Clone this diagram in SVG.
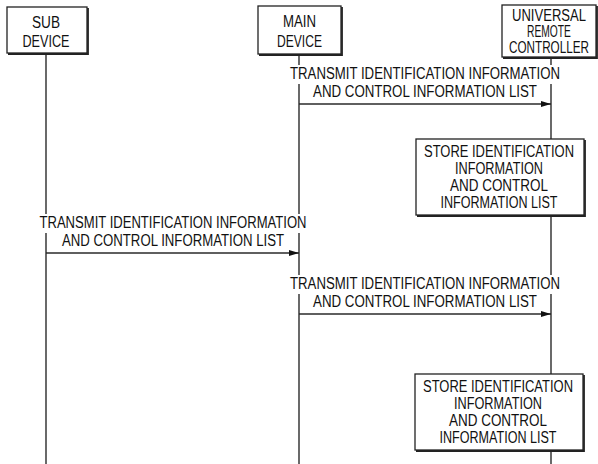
<svg xmlns="http://www.w3.org/2000/svg" width="598" height="464" viewBox="0 0 598 464">
<style>
text{font-family:"Liberation Sans",Arial,sans-serif;font-size:16px;fill:#111;text-anchor:middle}
.box{fill:#fff;stroke:#222;stroke-width:1.3}
.sh{fill:none;stroke:#222;stroke-width:1.8}
.life{stroke:#2a2a2a;stroke-width:1.4;fill:none}
.msg{stroke:#2a2a2a;stroke-width:1.3;fill:none;marker-end:url(#ah)}
.bg{fill:#fff;stroke:none}
</style>
<defs>
<marker id="ah" viewBox="0 0 10 6" refX="10" refY="3" markerWidth="10" markerHeight="6" markerUnits="userSpaceOnUse" orient="auto">
<path d="M0,0 L10,3 L0,6 Z" fill="#111"/>
</marker>
</defs>
<g id="lifelines">
<line class="life" x1="46" y1="53" x2="46" y2="464"/>
<line class="life" x1="299" y1="54" x2="299" y2="464"/>
<line class="life" x1="551" y1="57" x2="551" y2="464"/>
</g>
<g id="sub-device">
<rect class="box" x="7" y="7" width="80" height="46"/>
<path class="sh" d="M88,8 V54 H8"/>
<text x="46" y="28" textLength="28" lengthAdjust="spacingAndGlyphs">SUB</text>
<text x="46" y="47" textLength="47" lengthAdjust="spacingAndGlyphs">DEVICE</text>
</g>
<g id="main-device">
<rect class="box" x="258" y="6" width="83" height="48"/>
<path class="sh" d="M342,7 V55 H259"/>
<text x="299.5" y="27" textLength="33" lengthAdjust="spacingAndGlyphs">MAIN</text>
<text x="299.5" y="47" textLength="45" lengthAdjust="spacingAndGlyphs">DEVICE</text>
</g>
<g id="universal-remote-controller">
<rect class="box" x="502" y="5" width="94" height="52"/>
<path class="sh" d="M597,6 V58 H503"/>
<text x="549" y="21" textLength="74" lengthAdjust="spacingAndGlyphs">UNIVERSAL</text>
<text transform="translate(549,37) scale(0.64,1)" x="0" y="0">REMOTE</text>
<text x="549" y="53" textLength="80" lengthAdjust="spacingAndGlyphs">CONTROLLER</text>
</g>
<g id="connectors">
<line class="msg" x1="299" y1="104" x2="551" y2="104"/>
<line class="msg" x1="46" y1="253" x2="299" y2="253"/>
<line class="msg" x1="299" y1="314" x2="551" y2="314"/>
</g>
<g id="msg1-label">
<rect class="bg" x="289" y="65" width="273" height="19"/>
<text x="425" y="79" textLength="270" lengthAdjust="spacingAndGlyphs">TRANSMIT IDENTIFICATION INFORMATION</text>
<text x="425" y="97" textLength="224" lengthAdjust="spacingAndGlyphs">AND CONTROL INFORMATION LIST</text>
</g>
<g id="store1">
<rect class="box" x="416" y="139" width="168" height="76"/>
<path class="sh" d="M585,140 V216 H417"/>
<text x="499" y="157" textLength="150" lengthAdjust="spacingAndGlyphs">STORE IDENTIFICATION</text>
<text x="499" y="174" textLength="88" lengthAdjust="spacingAndGlyphs">INFORMATION</text>
<text x="499" y="191" textLength="98" lengthAdjust="spacingAndGlyphs">AND CONTROL</text>
<text x="499" y="208" textLength="117" lengthAdjust="spacingAndGlyphs">INFORMATION LIST</text>
</g>
<g id="msg2-label">
<rect class="bg" x="38" y="214" width="271" height="19"/>
<text x="173" y="228" textLength="267" lengthAdjust="spacingAndGlyphs">TRANSMIT IDENTIFICATION INFORMATION</text>
<text x="173" y="246" textLength="222" lengthAdjust="spacingAndGlyphs">AND CONTROL INFORMATION LIST</text>
</g>
<g id="msg3-label">
<rect class="bg" x="289" y="275" width="273" height="19"/>
<text x="425" y="289" textLength="270" lengthAdjust="spacingAndGlyphs">TRANSMIT IDENTIFICATION INFORMATION</text>
<text x="425" y="307" textLength="224" lengthAdjust="spacingAndGlyphs">AND CONTROL INFORMATION LIST</text>
</g>
<g id="store2">
<rect class="box" x="415" y="374" width="168" height="76"/>
<path class="sh" d="M584,375 V451 H416"/>
<text x="498" y="392" textLength="150" lengthAdjust="spacingAndGlyphs">STORE IDENTIFICATION</text>
<text x="498" y="409" textLength="88" lengthAdjust="spacingAndGlyphs">INFORMATION</text>
<text x="498" y="426" textLength="98" lengthAdjust="spacingAndGlyphs">AND CONTROL</text>
<text x="498" y="443" textLength="117" lengthAdjust="spacingAndGlyphs">INFORMATION LIST</text>
</g>
</svg>
